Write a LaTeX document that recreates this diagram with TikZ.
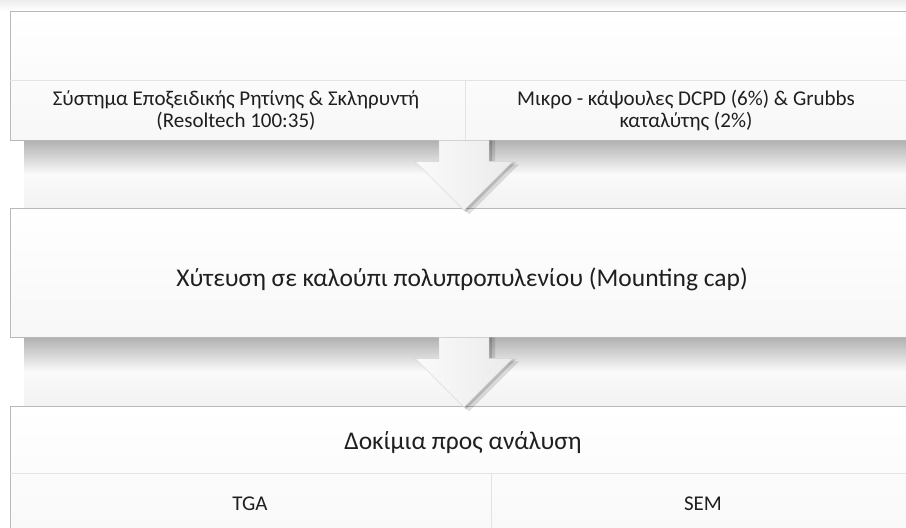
\documentclass[tikz,border=0pt]{standalone}
\usepackage{fontspec}
\setmainfont{Carlito}
\usetikzlibrary{calc}

\tikzset{
  panel/.style={draw=gray!55, line width=0.8pt, top color=white, bottom color=gray!6, inner sep=0pt},
  rule/.style={draw=gray!22, line width=0.8pt},
  label/.style={inner sep=0pt, align=center, text=black!88},
  smalltext/.style={label, font=\fontsize{21}{22.5}\selectfont},
  bigtext/.style={label, font=\fontsize{25.5}{30}\selectfont},
  drop/.style={inner sep=0pt, top color=gray!62, bottom color=gray!10, middle color=gray!4},
  glow/.style={inner sep=0pt, top color=gray!14, bottom color=white},
  downarrow/.pic={
    \fill[black, opacity=0.12] (-22,0) -- (-22,24) -- (-45,24) -- (5,74) -- (55,24) -- (31,24) -- (31,0) -- cycle;
    \fill[black, opacity=0.15] (-24,0) -- (-24,22) -- (-47,22) -- (2,72) -- (52,22) -- (28,22) -- (28,0) -- cycle;
    \shade[left color=gray!4, right color=gray!16, draw=gray!35, line width=0.4pt] (-25,0) -- (-25,21) -- (-49,21) -- (0,70) -- (49,21) -- (25,21) -- (25,0) -- cycle;
  }
}

\begin{document}
\begin{tikzpicture}[x=1pt,y=1pt,yscale=-1,xscale=1]
\useasboundingbox (0,0) rectangle (906,528);
\clip (0,0) rectangle (906,528);
\fill[white] (0,0) rectangle (906,528);
% Top glow
\node[glow, minimum width=906pt, minimum height=11pt] (topglow) at (453,5.5) {};
% Shadows under the panels
\node[drop, minimum width=882pt, minimum height=68pt] (shadow1) at (465,174) {};
\node[drop, minimum width=882pt, minimum height=69pt] (shadow2) at (465,371.5) {};
% Panel 1: components
\node[panel, minimum width=898pt, minimum height=129pt] (box1) at (459,75.5) {};
\draw[rule] (box1.west |- 0,80) -- (box1.east |- 0,80);
\draw[rule] (465,80) -- (465,140);
\node[smalltext] (resin) at (236,110.5) {Σύστημα Εποξειδικής Ρητίνης \& Σκληρυντή\\(Resoltech 100:35)};
\node[smalltext] (caps) at (686,110.5) {Μικρο - κάψουλες DCPD (6\%) \& Grubbs\\καταλύτης (2\%)};
% Panel 2: casting
\node[panel, minimum width=898pt, minimum height=129pt] (box2) at (459,272.5) {};
\node[bigtext] (casting) at (462,279) {Χύτευση σε καλούπι πολυπροπυλενίου (Mounting cap)};
% Panel 3: specimens
\node[panel, minimum width=898pt, minimum height=150pt] (box3) at (459,481) {};
\draw[rule] (box3.west |- 0,473) -- (box3.east |- 0,473);
\draw[rule] (491,473) -- (491,528);
\node[bigtext] (specimens) at (463,443) {Δοκίμια προς ανάλυση};
\node[smalltext] (tga) at (250,503.5) {TGA};
\node[smalltext] (sem) at (703,503.5) {SEM};
% Block arrows
\coordinate (a1) at (box1.south -| 464,0);
\coordinate (a2) at (box2.south -| 464,0);
\pic[transform shape] at (a1) {downarrow};
\pic[transform shape] at (a2) {downarrow};
\end{tikzpicture}
\end{document}
